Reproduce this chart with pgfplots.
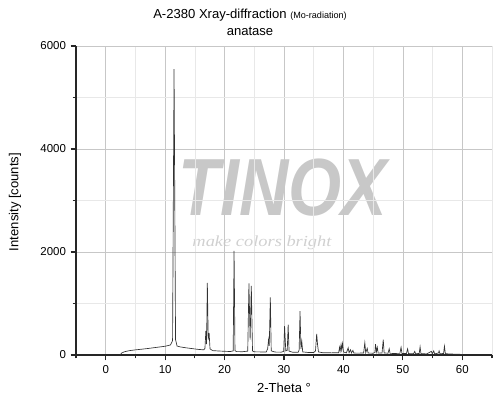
\documentclass[border=0pt]{standalone}
\usepackage{pgfplots}
\pgfplotsset{compat=1.18}
\usepackage{fontspec}
\setmainfont{Liberation Sans}
\newfontfamily\handfont{Liberation Serif}

\definecolor{wm}{RGB}{200,200,200}
\definecolor{trace}{RGB}{50,50,50}

\begin{document}
\begin{tikzpicture}[x=0.75pt,y=-0.75pt]
\useasboundingbox (0,0) rectangle (501,401);

% watermark
\node[text=wm, inner sep=0pt, xscale=0.8, yscale=0.95, font=\fontsize{64}{64}\bfseries\itshape\selectfont] at (283,188) {TINOX};
\node[text=wm!85, inner sep=0pt, xscale=1.2, font=\fontsize{11.5}{12}\handfont\itshape\selectfont] at (262,243) {make colors bright};

\begin{axis}[
  at={(57pt,-266.25pt)}, anchor=south west,
  scale only axis,
  width=312pt, height=231.75pt,
  xmin=-5, xmax=65,
  ymin=0, ymax=6000,
  xtick={0,10,...,60},
  minor xtick={-5,5,15,25,35,45,55,65},
  ytick={0,2000,4000,6000},
  minor ytick={1000,3000,5000},
  axis lines=left,
  axis line style={-, line width=1pt, black!85},
  tick align=outside,
  major tick length=4pt,
  minor tick length=2.5pt,
  tick style={black!85, line width=0.8pt},
  xmajorgrids, ymajorgrids, xminorgrids, yminorgrids,
  major grid style={black!22, line width=0.4pt},
  minor grid style={black!9, line width=0.4pt},
  ticklabel style={font=\fontsize{8.6}{10}\selectfont},
  /pgf/number format/assume math mode=true,
  /pgf/number format/set thousands separator={},
  clip=false,
]
\addplot[trace, line width=0.5pt] coordinates {
(2.4,0) (2.7,40) (3.2,65) (4,85) (5,100) (6,112) (7,125) (8,140) (9,155) (10,170) (10.9,195)
(11.25,280) (11.5,5550) (11.75,300) (12.0,175)
(12.5,158) (13.5,140) (14.5,125) (15.5,110) (16.5,100)
(16.7,130) (16.85,470) (16.97,210) (17.1,1400) (17.25,300) (17.4,430) (17.55,120)
(18,85) (19,78) (20,72) (21,68) (21.45,80) (21.6,2020) (21.75,85) (22,66) (23,64)
(23.9,75) (24.1,1390) (24.3,300) (24.5,1340) (24.7,80) (25,62) (26,60) (27,58)
(27.25,120) (27.4,300) (27.52,180) (27.7,1120) (27.85,80) (28.5,57) (29.5,55)
(29.95,70) (30.1,560) (30.3,80) (30.55,90) (30.7,590) (30.85,75) (31.5,52) (32.4,55)
(32.55,100) (32.7,850) (32.85,120) (33.0,260) (33.15,60) (34,50) (35,48)
(35.3,80) (35.5,410) (35.65,200) (35.8,60) (36.5,45) (38,42) (39.2,45)
(39.35,150) (39.45,80) (39.6,200) (39.7,100) (39.85,225) (40,60)
(40.5,40) (40.8,140) (40.95,45) (41.2,100) (41.35,40) (41.6,90) (41.75,38) (42.5,36)
(43.4,40) (43.6,240) (43.75,45) (44.0,130) (44.15,38) (45,35)
(45.3,50) (45.4,210) (45.55,60) (45.7,150) (45.85,36) (46.5,40) (46.7,300) (46.85,40)
(47.5,35) (47.7,120) (47.85,32) (48.5,30) (49.5,32) (49.7,150) (49.85,30)
(50.6,30) (50.8,120) (50.95,28) (51.8,25) (52,70) (52.15,25) (52.75,30) (52.9,160) (53.05,25)
(54,22) (54.8,70) (54.95,22) (55.2,80) (55.35,22) (56,40) (56.1,80) (56.25,22)
(56.85,30) (57.0,170) (57.15,25) (58,20) (59,15) (60,12) (60.1,0)
};
\end{axis}

% titles and labels
\node[font=\fontsize{9.8}{11}\selectfont] at (250,15) {A-2380 Xray-diffraction {\fontsize{6.8}{8}\selectfont(Mo-radiation)}};
\node[font=\fontsize{9.8}{11}\selectfont] at (250,31) {anatase};
\node[font=\fontsize{9.8}{11}\selectfont, rotate=90] at (15,202) {Intensity [counts]};
\node[font=\fontsize{9.8}{11}\selectfont] at (284,388) {2-Theta °};
\end{tikzpicture}
\end{document}
